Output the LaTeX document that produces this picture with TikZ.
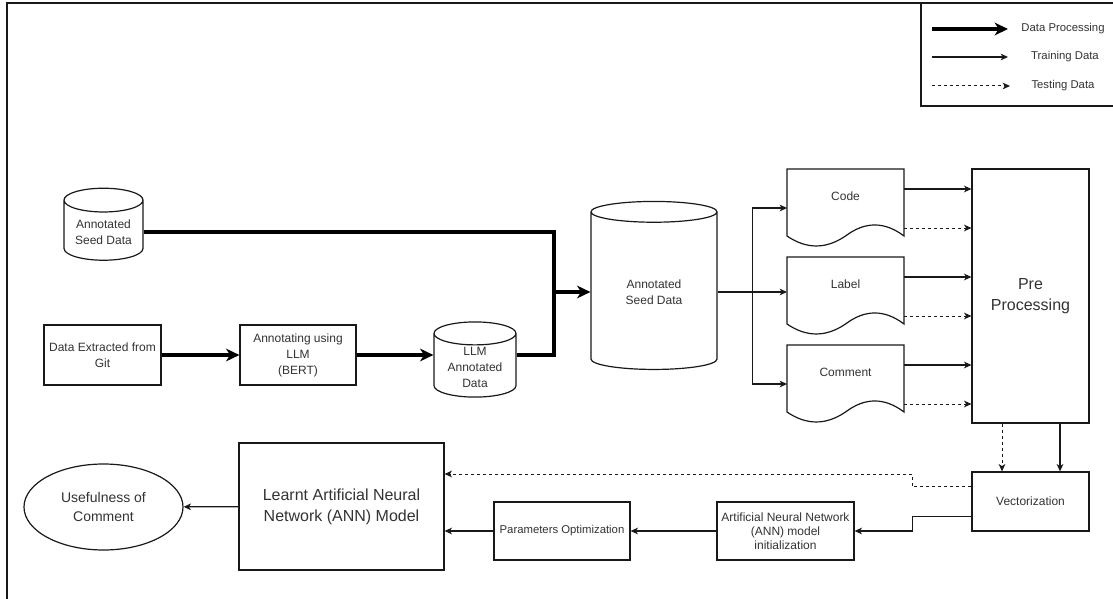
\documentclass[tikz,border=0pt]{standalone}
\usepackage{fontspec}
\setmainfont{Liberation Sans}
\usetikzlibrary{shapes.geometric, arrows.meta, calc}

% outline of a document box, wavy bottom
\newcommand{\docedge}[1]{%
	\draw[black!90, line width = 0.9pt, shift = {(#1.north west)}]
		(0,0) -- (117,0) -- (117,67)
		.. controls (97.5,52.3) and (78,52.3) .. (58.5,67)
		.. controls (39,80.3) and (19.5,80.3) .. (0,67) -- cycle;}

\begin{document}
\begin{tikzpicture}[x = 0.75pt, y = -0.75pt,
	procbox/.style = {draw = black!90,
					  shape = rectangle,
					  line width = 0.9pt,
					  fill = white,
					  align = center,
					  inner sep = 1pt,
					  text = black!80,
					  font = \fontsize{9}{12}\selectfont},
	dbshape/.style = {procbox,
					  shape = cylinder,
					  shape border rotate = 90,
					  aspect = 0.4},
	docbox/.style = {shape = rectangle,
					 minimum width = 87.75pt,
					 minimum height = 58.5pt,
					 outer sep = 0pt,
					 text depth = 18pt,
					 text = black!80,
					 font = \fontsize{9}{12}\selectfont},
	legtext/.style = {text = black!80,
					  font = \fontsize{8.5}{10}\selectfont},
	frameline/.style = {black!90, line width = 1pt},
	dataline/.style = {black, line width = 2.6pt},
	dataflow/.style = {dataline, -{Stealth[length = 10pt, width = 9.5pt, inset = 3pt]}},
	trainline/.style = {black!90, line width = 0.9pt,
						-{Stealth[length = 5.5pt, width = 5pt, inset = 1.5pt]}},
	testline/.style = {trainline, line width = 0.75pt, dash pattern = on 2.25pt off 2.25pt}]

	\useasboundingbox (0,0) rectangle (1113,599);

	% frame and legend
	\draw[frameline] (7,599) -- (7,3) -- (1113,3);
	\draw[frameline] (921,3) -- (921,106) -- (1113,106);

	\draw (1063,29) node[legtext] (legdata) {Data Processing};
	\draw (1065,57) node[legtext] (legtrain) {Training Data};
	\draw (1063,86) node[legtext] (legtest) {Testing Data};
	\coordinate (ldata) at (932,29);
	\coordinate (ldataend) at (1008,29);
	\coordinate (ltrain) at (932,57);
	\coordinate (ltrainend) at (1008,57);
	\coordinate (ltest) at (932,86);
	\coordinate (ltestend) at (1010,86);
	\draw[dataflow] (ldata) -- (ldataend);
	\draw[trainline] (ltrain) -- (ltrainend);
	\draw[testline] (ltest) -- (ltestend);

	% data collection
	\draw (103.5,232) node[dbshape,
					 minimum width = 59.25pt,
					 minimum height = 54pt] (seeddata) {Annotated\\Seed Data};

	\draw (102.5,355) node[procbox,
					 minimum width = 87.75pt,
					 minimum height = 45pt] (gitdata) {Data Extracted from\\Git};

	\draw (298,355) node[procbox,
					 minimum width = 87pt,
					 minimum height = 45pt] (bert) {Annotating using\\LLM\\(BERT)};

	\draw (475,367) node[dbshape,
					 minimum width = 61.5pt,
					 minimum height = 50.25pt] (llmdata) {LLM\\Annotated\\Data};

	\draw (654,292) node[dbshape,
					 aspect = 0.35,
					 minimum width = 94.5pt,
					 minimum height = 126pt] (seedall) {Annotated\\Seed Data};

	\coordinate (merge) at (554,292);
	\draw[dataline] (seeddata.east) -| (merge);
	\draw[dataline] (llmdata.east |- bert.east) -| (merge);
	\draw[dataflow] (gitdata) -- (bert);
	\draw[dataflow] (bert.east) -- (bert.east -| llmdata.west);
	\draw[dataflow] (merge) -- (merge -| seedall.west);

	% split into code, label, comment
	\draw (845.5,208) node[docbox] (code) {Code};
	\draw (845.5,296) node[docbox] (label) {Label};
	\draw (845.5,384) node[docbox] (comment) {Comment};
	\docedge{code}
	\docedge{label}
	\docedge{comment}

	\coordinate (split) at ($(seedall.east)!0.5!(seedall.east -| code.west)$);
	\draw[trainline] (seedall.east) -- (seedall.east -| label.west);
	\draw[trainline] (split) |- (code.west);
	\draw[trainline] (split) |- (comment.west);

	\draw (1030.5,296) node[procbox,
					 minimum width = 87.75pt,
					 minimum height = 190.5pt,
					 font = \fontsize{12}{16}\selectfont] (prep) {Pre\\Processing};

	\draw[trainline] ($(code.east)+(0,-19)$) coordinate (codetr) -- (codetr -| prep.west);
	\draw[testline] ($(code.east)+(0,20)$) coordinate (codete) -- (codete -| prep.west);
	\draw[trainline] ($(label.east)+(0,-19)$) coordinate (labeltr) -- (labeltr -| prep.west);
	\draw[testline] ($(label.east)+(0,20)$) coordinate (labelte) -- (labelte -| prep.west);
	\draw[trainline] ($(comment.east)+(0,-19)$) coordinate (commenttr) -- (commenttr -| prep.west);
	\draw[testline] ($(comment.east)+(0,20)$) coordinate (commentte) -- (commentte -| prep.west);

	% model
	\draw (1030.5,501.5) node[procbox,
					 minimum width = 87.75pt,
					 minimum height = 44.25pt] (vect) {Vectorization};

	\draw (785.5,531) node[procbox,
					 minimum width = 102.75pt,
					 minimum height = 43.5pt,
					 font = \fontsize{9}{10.5}\selectfont] (annini) {Artificial Neural Network\\(ANN) model\\initialization};

	\draw (562,531) node[procbox,
					 minimum width = 102pt,
					 minimum height = 43.5pt,
					 font = \fontsize{8.5}{10}\selectfont] (params) {Parameters Optimization};

	\draw (341.5,506.5) node[procbox,
					 minimum width = 153.75pt,
					 minimum height = 95.25pt,
					 font = \fontsize{12}{15.75}\selectfont] (learnt) {Learnt Artificial Neural\\Network (ANN) Model};

	\draw (103.5,507) node[procbox,
					 shape = ellipse,
					 minimum width = 119.25pt,
					 minimum height = 64.5pt,
					 font = \fontsize{10.5}{14}\selectfont] (useful) {Usefulness of\\Comment};

	\draw[testline] ($(prep.south)+(-28.5,0)$) coordinate (pvtest) -- (pvtest |- vect.north);
	\draw[trainline] ($(prep.south)+(29.5,0)$) coordinate (pvtrain) -- (pvtrain |- vect.north);

	\draw[testline] ($(vect.west)+(0,-15)$) -- ++(-59,0) |- ($(learnt.east)+(0,-32.5)$);
	\draw[trainline] ($(vect.west)+(0,15)$) -- ++(-59,0) |- (annini.east);
	\draw[trainline] (annini) -- (params);
	\draw[trainline] (params.west) -- (params.west -| learnt.east);
	\draw[trainline] (learnt) -- (useful);
\end{tikzpicture}
\end{document}
